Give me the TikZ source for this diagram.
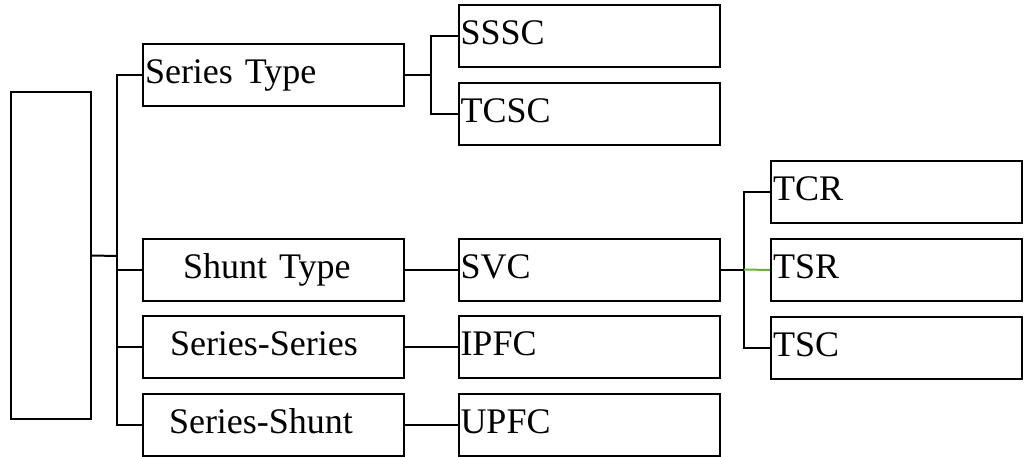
\documentclass[tikz,border=0pt]{standalone}
\usepackage{fontspec}
\setmainfont{Liberation Serif}
\definecolor{linkgreen}{RGB}{112,173,71}
\tikzset{
  midbox/.style={draw, line width=2pt, minimum height=62pt, inner xsep=2pt, inner ysep=0pt,
    text width=257pt, align=left, text height=25pt, text depth=8pt,
    font=\fontsize{36}{40}\selectfont},
  tbox/.style={midbox, text width=247pt},
  link/.style={line width=2pt}
}
\begin{document}
\begin{tikzpicture}[x=1pt,y=1pt,yscale=-1]
\useasboundingbox (0,0) rectangle (1024,457);

% root box
\node (root) [draw, line width=2pt, minimum width=80pt, minimum height=327pt, inner sep=0pt] at (51,255.5) {};

% first level
\node (series)   [midbox] at (273.5,75.5)  {Series Type};
\node (shunt)    [midbox] at (273.5,269.5) {\hspace*{38pt}Shunt Type};
\node (serser)   [midbox] at (273.5,347)   {\hspace*{25pt}Series-Series};
\node (sershunt) [midbox] at (273.5,424.5) {\hspace*{24pt}Series-Shunt};

% second level
\node (sssc) [midbox] at (589,36.5)  {SSSC};
\node (tcsc) [midbox] at (589,114.5) {TCSC};
\node (svc)  [midbox] at (589,269.5) {SVC};
\node (ipfc) [midbox] at (589,347)   {IPFC};
\node (upfc) [midbox] at (589,424.5) {UPFC};

% third level
\node (tcr) [tbox] at (896.5,192) {TCR};
\node (tsr) [tbox] at (896.5,270) {TSR};
\node (tsc) [tbox] at (896.5,348) {TSC};

% junctions
\coordinate (bus) at (117,256);
\coordinate (sj)  at (431,75.5);
\coordinate (tj)  at (744,269.5);

% connectors
\draw [link] (root.east) -- (bus);
\draw [link] (series.west) -| (bus) |- (sershunt.west);
\draw [link] (bus) |- (shunt.west);
\draw [link] (bus) |- (serser.west);

\draw [link] (series.east) -- (sj);
\draw [link] (sssc.west) -| (sj) |- (tcsc.west);

\draw [link] (shunt.east) -- (svc.west);
\draw [link] (serser.east) -- (ipfc.west);
\draw [link] (sershunt.east) -- (upfc.west);

\draw [link] (svc.east) -- (tj);
\draw [link] (tcr.west) -| (tj) |- (tsc.west);
\draw [link, color=linkgreen] (tj) -- (tsr.west);

\end{tikzpicture}
\end{document}
